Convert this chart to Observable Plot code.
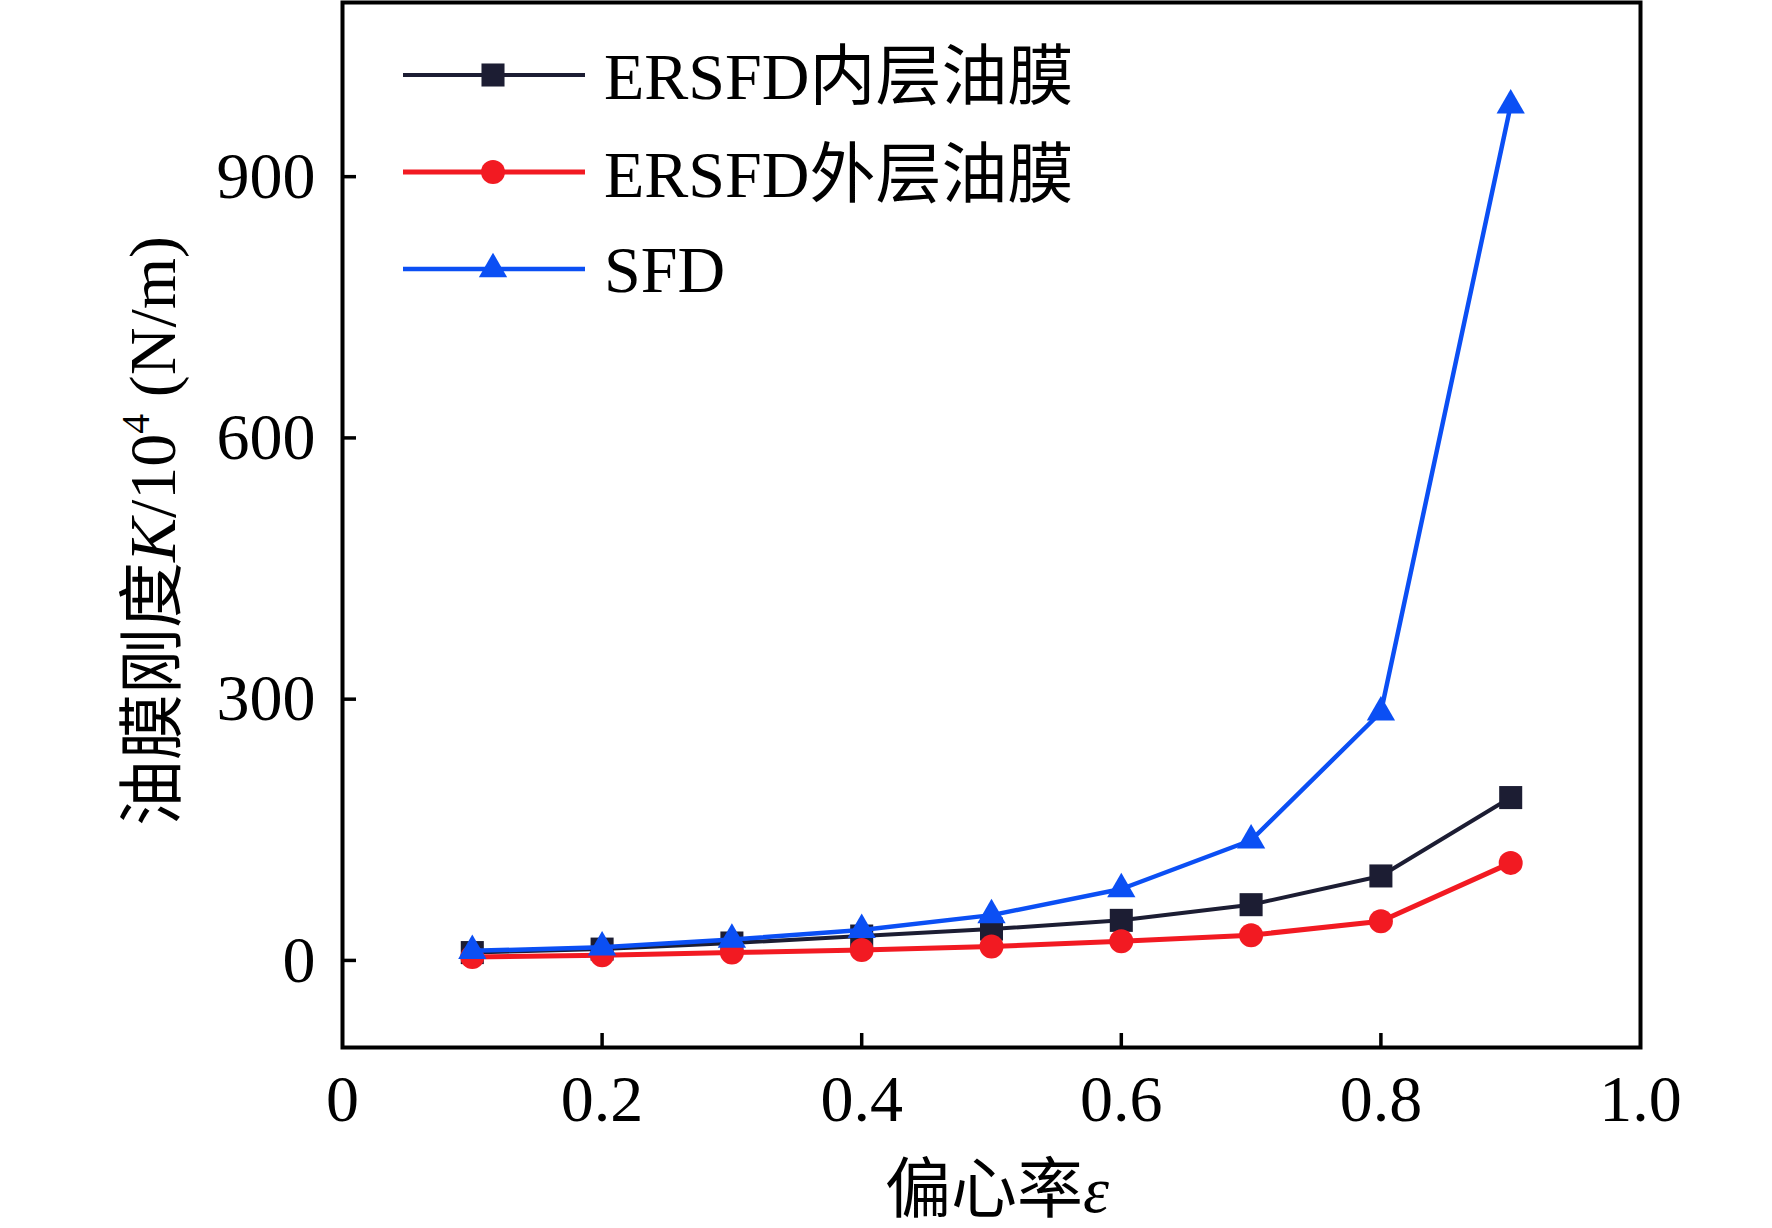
<!DOCTYPE html>
<html>
<head>
<meta charset="utf-8">
<script src="https://cdn.jsdelivr.net/npm/d3@7"></script>
<script src="https://cdn.jsdelivr.net/npm/@observablehq/plot@0.6"></script>
<style>
  body { margin: 0; background: #fff; }
  #wrap { position: relative; width: 1772px; height: 1228px; overflow: hidden; }
  #wrap svg { position: absolute; left: 0; top: 0; }
</style>
</head>
<body>
<div id="wrap"></div>
<script>
// ---- data ----
const eccentricity = [0.1, 0.2, 0.3, 0.4, 0.5, 0.6, 0.7, 0.8, 0.9];
const innerFilm = [9, 13, 20, 28, 36, 46, 64, 97, 187];
const outerFilm = [4, 6, 9, 12, 16, 22, 29, 45, 112];
const sfdFilm = [11, 15, 24, 35, 52, 82, 138, 285, 982];
const seriesNames = ["ERSFD内层油膜", "ERSFD外层油膜", "SFD"];
const seriesColors = ["#1c1d33", "#f21a22", "#0b4ff4"];
const seriesSymbols = ["square", "circle", "triangle"];
const xTicks = [0, 0.2, 0.4, 0.6, 0.8, 1.0];
const yTicks = [0, 300, 600, 900];

const seriesValues = [innerFilm, outerFilm, sfdFilm];
const rows = [];
seriesValues.forEach((vals, i) =>
  vals.forEach((v, j) => rows.push({ e: eccentricity[j], k: v, s: seriesNames[i] }))
);

const FONT = "'Liberation Serif', 'Times New Roman', 'Noto Sans CJK SC', serif";
const lineW = [4, 5, 4.5];
const dotR = [13, 12, 10.5];

const seriesMarks = [];
seriesNames.forEach((name, i) => {
  const sub = rows.filter(d => d.s === name);
  seriesMarks.push(Plot.line(sub, { x: "e", y: "k", stroke: seriesColors[i], strokeWidth: lineW[i] }));
  seriesMarks.push(Plot.dot(sub, { x: "e", y: "k", fill: seriesColors[i], stroke: "none", symbol: seriesSymbols[i], r: dotR[i] }));
});

const chart = Plot.plot({
  width: 1772,
  height: 1228,
  marginLeft: 342,
  marginRight: 132,
  marginTop: 2,
  marginBottom: 181,
  style: { fontFamily: FONT, fontSize: "66px", color: "#000", background: "transparent" },
  x: { domain: [0, 1], label: null },
  y: { domain: [-100, 1100], label: null },
  marks: [
    Plot.axisX({ ticks: xTicks.slice(1, -1), tickSize: -14, strokeWidth: 3.5, text: null, label: null }),
    Plot.axisX({ ticks: xTicks, tickSize: 0, tickPadding: 27, tickFormat: d => d === 0 ? "0" : d.toFixed(1), fontSize: 66, label: null }),
    Plot.axisY({ ticks: yTicks, tickSize: -14, strokeWidth: 3.5, text: null, label: null }),
    Plot.axisY({ ticks: yTicks, tickSize: 0, tickPadding: 27, tickFormat: d => String(d), fontSize: 66, label: null }),
    ...seriesMarks,
    Plot.frame({ stroke: "#000", strokeWidth: 4 })
  ]
});
document.getElementById("wrap").appendChild(chart);

// ---- overlay: legend and axis titles ----
const W = 1772, H = 1228;
const ov = d3.select("#wrap").append("svg")
  .attr("width", W).attr("height", H)
  .style("pointer-events", "none")
  .style("font-family", FONT);

const legendRowsY = [75, 172, 269];
const legendBase = [99, 197, 292];
const symMap = { square: d3.symbolSquare, circle: d3.symbolCircle, triangle: d3.symbolTriangle };
seriesNames.forEach((name, i) => {
  const y = legendRowsY[i];
  ov.append("line").attr("x1", 403).attr("x2", 585).attr("y1", y).attr("y2", y)
    .attr("stroke", seriesColors[i]).attr("stroke-width", lineW[i]);
  ov.append("path")
    .attr("d", d3.symbol(symMap[seriesSymbols[i]], Math.PI * dotR[i] * dotR[i])())
    .attr("transform", `translate(493,${y})`)
    .attr("fill", seriesColors[i]);
  ov.append("text").attr("x", 604).attr("y", legendBase[i])
    .attr("font-size", 66).attr("fill", "#000").text(name);
});

// y-axis title
const yt = ov.append("text")
  .attr("transform", "translate(175,531) rotate(-90)")
  .attr("text-anchor", "middle")
  .attr("font-size", 66).attr("fill", "#000");
yt.append("tspan").text("油膜刚度");
yt.append("tspan").attr("font-style", "italic").text("K");
yt.append("tspan").text("/10");
yt.append("tspan").attr("font-size", 40).attr("dy", -26).text("4");
yt.append("tspan").attr("dy", 26).text(" (N/m)");

// x-axis title
const xt = ov.append("text")
  .attr("x", 997).attr("y", 1212)
  .attr("text-anchor", "middle")
  .attr("font-size", 66).attr("fill", "#000");
xt.append("tspan").text("偏心率");
xt.append("tspan").attr("font-style", "italic").text("ε");
</script>
</body>
</html>
